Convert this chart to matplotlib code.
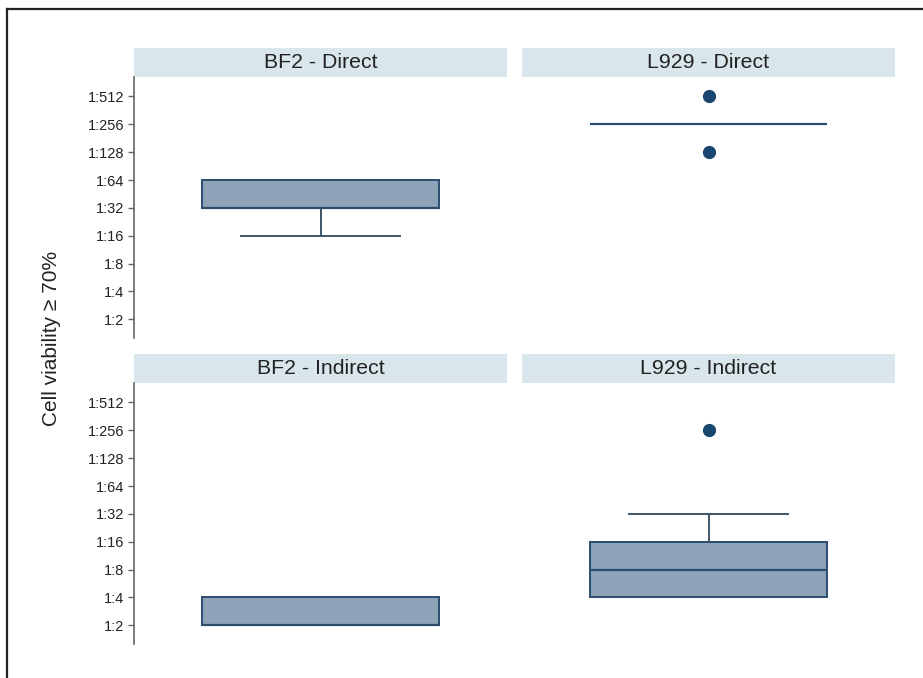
import matplotlib
matplotlib.use('Agg')
from matplotlib import pyplot as plt
from matplotlib.patches import Rectangle
from matplotlib.lines import Line2D

plt.rcParams['font.family'] = ['Liberation Sans', 'DejaVu Sans']

# dilution levels, log2 scale (1:2 -> 1 ... 1:512 -> 9)
tick_vals = [1, 2, 3, 4, 5, 6, 7, 8, 9]
tick_labels = ['1:2', '1:4', '1:8', '1:16', '1:32', '1:64', '1:128', '1:256', '1:512']

panels = ['BF2 - Direct', 'L929 - Direct', 'BF2 - Indirect', 'L929 - Indirect']
q1 = [5, 8, 1, 2]
med = [5, 8, 1, 3]
q3 = [6, 8, 2, 4]
whislo = [4, 8, 1, 2]
whishi = [6, 8, 2, 5]
fliers = [[], [7, 9], [], [8]]

fill_col = '#8ea3b8'
edge_col = '#2b4d6e'
whisk_col = '#3e5568'
dot_col = '#1a476f'
strip_col = '#d9e6eb'

W, H = 923, 678
fig = plt.figure(figsize=(W / 100, H / 100), dpi=100)

# frame round the graph (cropped on right and bottom)
fig.add_artist(Line2D([7 / W, 1], [1 - 9 / H, 1 - 9 / H], color='#222222', lw=1.6))
fig.add_artist(Line2D([7 / W, 7 / W], [0, 1 - 9 / H], color='#222222', lw=1.6))

lefts = [134, 522]
tops = [77, 383]
pw, ph = 373, 261
strip_h = 29

for i, name in enumerate(panels):
    r, c = divmod(i, 2)
    ax = fig.add_axes([lefts[c] / W, 1 - (tops[r] + ph) / H, pw / W, ph / H])
    stats = [dict(q1=q1[i], med=med[i], q3=q3[i], whislo=whislo[i],
                  whishi=whishi[i], fliers=fliers[i])]
    bp = ax.bxp(stats, positions=[0], widths=0.638, capwidths=0.426,
                patch_artist=True, manage_ticks=False,
                boxprops=dict(facecolor=fill_col, edgecolor=edge_col, lw=1.4),
                medianprops=dict(color=edge_col, lw=1.6),
                whiskerprops=dict(color=whisk_col, lw=1.4),
                capprops=dict(color=whisk_col, lw=1.4),
                flierprops=dict(marker='o', markersize=8.5, markerfacecolor=dot_col,
                                markeredgecolor=dot_col, linestyle='none'))
    # hide zero-length whiskers and their caps
    for wl, cp in zip(bp['whiskers'], bp['caps']):
        y = wl.get_ydata()
        if y[0] == y[1]:
            wl.set_visible(False)
            cp.set_visible(False)
    ax.set_xlim(-0.5, 0.5)
    ax.set_ylim(0.33, 9.7)
    ax.set_xticks([])
    for s in ['top', 'right', 'bottom']:
        ax.spines[s].set_visible(False)
    if c == 0:
        ax.spines['left'].set_color('#666666')
        ax.spines['left'].set_linewidth(1.2)
        ax.set_yticks(tick_vals)
        ax.set_yticklabels(tick_labels)
        ax.tick_params(axis='y', length=4, width=1.0, color='#666666',
                       labelsize=10.5, labelcolor='#222222', pad=3)
    else:
        ax.spines['left'].set_visible(False)
        ax.set_yticks([])
    # strip with panel title
    sh = strip_h / ph
    ax.add_patch(Rectangle((0, 1), 1, sh, transform=ax.transAxes,
                           facecolor=strip_col, edgecolor='none', clip_on=False))
    ax.text(0.5, 1 + sh / 2, name, transform=ax.transAxes, ha='center',
            va='center', fontsize=15.3, color='#222222')

fig.text(52 / W, 1 - 338 / H, 'Cell viability ≥ 70%', rotation=90,
         ha='center', va='center', fontsize=15, color='#222222')

plt.savefig('out.png', dpi=100)
plt.close()
